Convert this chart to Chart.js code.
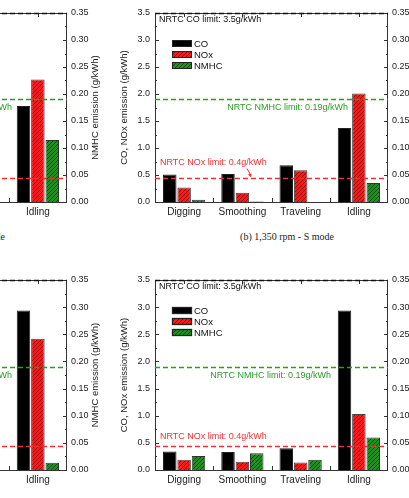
<!DOCTYPE html>
<html>
<head>
<meta charset="utf-8">
<script src="https://cdn.jsdelivr.net/npm/chart.js@4.4.1/dist/chart.umd.min.js"></script>
<style>
    html, body { margin: 0; padding: 0; background: #fff; }
    body { width: 409px; height: 498px; overflow: hidden; position: relative; font-family: "Liberation Sans", Arial, sans-serif; }
    .panel { position: absolute; }
    .cap { position: absolute; width: 200px; font-family: "Liberation Serif", "Times New Roman", serif; font-size: 10px; color: #222; white-space: nowrap; }
</style>
</head>
<body>
<div class="panel" style="left:-206px; top:0; width:312px; height:225px"><canvas id="chartA"></canvas></div>
<div class="panel" style="left:115px; top:0; width:312px; height:225px"><canvas id="chartB"></canvas></div>
<div class="panel" style="left:-206px; top:267px; width:312px; height:226px"><canvas id="chartC"></canvas></div>
<div class="panel" style="left:115px; top:267px; width:312px; height:226px"><canvas id="chartD"></canvas></div>
<div class="cap" style="left:-195px; top:231px; text-align:right">(a) 1,350 rpm - P mode</div>
<div class="cap" style="left:187px; top:231px; text-align:center">(b) 1,350 rpm - S mode</div>

<script>
const categories = ['Digging', 'Smoothing', 'Traveling', 'Idling'];

// CO and NOx on the left axis (g/kWh), NMHC on the right axis (g/kWh)
// left panels are cut off: only the Idling group is visible
const coA = [null, null, null, 1.78];
const noxA = [null, null, null, 2.27];
const nmhcA = [null, null, null, 0.115];

const coB = [0.51, 0.52, 0.68, 1.37];
const noxB = [0.27, 0.17, 0.59, 2.01];
const nmhcB = [0.004, 0.001, 0, 0.035];

const coC = [null, null, null, 2.94];
const noxC = [null, null, null, 2.42];
const nmhcC = [null, null, null, 0.0135];

const coD = [0.34, 0.33, 0.40, 2.94];
const noxD = [0.19, 0.15, 0.14, 1.03];
const nmhcD = [0.026, 0.031, 0.019, 0.060];

// limit lines
const coLimit = 3.5;
const noxLimitLine = 0.44;
const nmhcLimit = 0.19;

const leftMax = 3.5, leftStep = 0.5;
const rightMax = 0.35, rightStep = 0.05;

const FONT = '"Liberation Sans", Arial, sans-serif';
const INK = '#222';

function hatch(bg, fg) {
    const c = document.createElement('canvas');
    c.width = 4; c.height = 4;
    const g = c.getContext('2d');
    g.fillStyle = bg;
    g.fillRect(0, 0, 4, 4);
    g.strokeStyle = fg;
    g.lineWidth = 1;
    g.beginPath();
    g.moveTo(0, 4); g.lineTo(4, 0);
    g.moveTo(-1, 1); g.lineTo(1, -1);
    g.moveTo(3, 5); g.lineTo(5, 3);
    g.stroke();
    return g.createPattern(c, 'repeat');
}

const redFill = hatch('#f21a1a', '#a80000');
const greenFill = hatch('#1f8f1f', '#0a500a');

const decoPlugin = {
    id: 'deco',
    afterDatasetsDraw(chart, args, o) {
        const { ctx, chartArea: a, scales } = chart;
        const y = scales.y, x = scales.x, y2 = scales.y2;
        ctx.save();

        // frame
        ctx.strokeStyle = '#333';
        ctx.lineWidth = 1;
        ctx.setLineDash([]);
        ctx.strokeRect(a.left + 0.5, a.top + 0.5, a.right - a.left - 1, a.bottom - a.top);

        // inward ticks on the value axes (major + minor)
        ctx.beginPath();
        for (let v = 0; v <= leftMax + 1e-9; v += leftStep / 2) {
            const py = Math.round(y.getPixelForValue(v)) + 0.5;
            const major = Math.abs(v / leftStep - Math.round(v / leftStep)) < 1e-6;
            const len = major ? 4 : 2;
            ctx.moveTo(a.left, py); ctx.lineTo(a.left + len, py);
            ctx.moveTo(a.right, py); ctx.lineTo(a.right - len, py);
        }
        // category ticks: boundaries at bottom, centers at top
        const n = chart.data.labels.length;
        const w = (a.right - a.left) / n;
        for (let i = 1; i < n; i++) {
            const px = Math.round(a.left + i * w) + 0.5;
            ctx.moveTo(px, a.bottom); ctx.lineTo(px, a.bottom - 4);
        }
        for (let i = 0; i < n; i++) {
            const px = Math.round(x.getPixelForTick(i)) + 0.5;
            ctx.moveTo(px, a.top); ctx.lineTo(px, a.top + 4);
        }
        ctx.stroke();

        // limit lines
        const dash = (py, color) => {
            ctx.strokeStyle = color;
            ctx.lineWidth = 1.3;
            ctx.setLineDash([5, 3]);
            ctx.beginPath();
            ctx.moveTo(a.left, py); ctx.lineTo(a.right, py);
            ctx.stroke();
        };
        const yCo = Math.round(y.getPixelForValue(coLimit)) + 0.5;
        const yNox = Math.round(y.getPixelForValue(noxLimitLine)) + 0.5;
        const yNmhc = Math.round(y2.getPixelForValue(nmhcLimit)) + 0.5;
        dash(yNox, '#f03030');
        dash(yNmhc, '#2e9a2e');
        dash(yCo, '#111');
        ctx.setLineDash([]);

        // labels
        ctx.font = '9px ' + FONT;
        ctx.textBaseline = 'middle';
        ctx.textAlign = 'left';
        ctx.fillStyle = '#111';
        ctx.fillText('NRTC CO limit: 3.5g/kWh', a.left + 4, a.top + 7);
        ctx.fillStyle = '#f03030';
        ctx.fillText('NRTC NOx limit: 0.4g/kWh', a.left + 5, yNox - o.noxTextUp);
        ctx.fillStyle = '#2e9a2e';
        ctx.textAlign = 'right';
        ctx.fillText('NRTC NMHC limit: 0.19g/kWh', a.right + o.nmhcTextEnd, yNmhc + 8);

        if (o.arrow) {
            ctx.strokeStyle = '#f03030';
            ctx.fillStyle = '#f03030';
            ctx.lineWidth = 1;
            const x0 = a.left + 92, y0 = yNox - 10, x1 = a.left + 96, y1 = yNox - 1;
            ctx.beginPath(); ctx.moveTo(x0, y0); ctx.lineTo(x1, y1 - 2); ctx.stroke();
            ctx.beginPath(); ctx.moveTo(x1, y1); ctx.lineTo(x1 - 3, y1 - 3); ctx.lineTo(x1 + 0.5, y1 - 4); ctx.closePath(); ctx.fill();
        }

        // legend inside the plot
        ctx.textAlign = 'left';
        ctx.font = '9.5px ' + FONT;
        chart.data.datasets.forEach((ds, i) => {
            const sx = a.left + 17, sy = a.top + 27 + i * 11;
            ctx.fillStyle = ds.backgroundColor;
            ctx.fillRect(sx, sy, 20, 7);
            ctx.strokeStyle = '#222';
            ctx.strokeRect(sx + 0.5, sy + 0.5, 19, 6);
            ctx.fillStyle = '#111';
            ctx.fillText(ds.label, sx + 22, sy + 4);
        });

        // right axis title, reading bottom to top
        ctx.translate(a.right + 28, (a.top + a.bottom) / 2);
        ctx.rotate(-Math.PI / 2);
        ctx.textAlign = 'center';
        ctx.font = '9.5px ' + FONT;
        ctx.fillStyle = INK;
        ctx.fillText('NMHC emission (g/kWh)', 0, 0);
        ctx.restore();
    }
};

function makePanel(id, co, nox, nmhc, deco) {
    const tickFont = { family: FONT, size: 9 };
    const noGrid = { display: false, drawTicks: false };
    new Chart(document.getElementById(id), {
        type: 'bar',
        data: {
            labels: categories,
            datasets: [
                { label: 'CO', data: co, yAxisID: 'y', backgroundColor: '#000', borderColor: '#222', borderWidth: 1 },
                { label: 'NOx', data: nox, yAxisID: 'y', backgroundColor: redFill, borderColor: '#444', borderWidth: 1 },
                { label: 'NMHC', data: nmhc, yAxisID: 'y2', backgroundColor: greenFill, borderColor: '#333', borderWidth: 1 }
            ]
        },
        options: {
            responsive: true,
            maintainAspectRatio: false,
            animation: false,
            layout: { padding: { top: 13, left: 0, right: 0, bottom: 0 } },
            datasets: { bar: { categoryPercentage: 0.74, barPercentage: 0.94 } },
            plugins: { legend: { display: false }, tooltip: { enabled: false }, deco: deco },
            scales: {
                x: {
                    grid: noGrid,
                    border: { display: false },
                    ticks: { padding: 4, font: { family: FONT, size: 10 }, color: INK, maxRotation: 0 },
                    afterFit(s) { s.height = 23; }
                },
                y: {
                    position: 'left',
                    min: 0, max: leftMax,
                    grid: noGrid,
                    border: { display: false },
                    ticks: { stepSize: leftStep, padding: 5, font: tickFont, color: INK, callback: v => v.toFixed(1) },
                    title: { display: true, text: 'CO, NOx emission (g/kWh)', font: { family: FONT, size: 9.5 }, color: INK },
                    afterFit(s) { s.width = 40; }
                },
                y2: {
                    position: 'right',
                    min: 0, max: rightMax,
                    grid: noGrid,
                    border: { display: false },
                    ticks: { stepSize: rightStep, padding: 4, font: tickFont, color: INK, callback: v => v.toFixed(2) },
                    afterFit(s) { s.width = 39; }
                }
            }
        },
        plugins: [decoPlugin]
    });
}

makePanel('chartA', coA, noxA, nmhcA, { noxTextUp: 12, nmhcTextEnd: -55, arrow: false });
makePanel('chartB', coB, noxB, nmhcB, { noxTextUp: 16, nmhcTextEnd: -40, arrow: true });
makePanel('chartC', coC, noxC, nmhcC, { noxTextUp: 12, nmhcTextEnd: -55, arrow: false });
makePanel('chartD', coD, noxD, nmhcD, { noxTextUp: 10, nmhcTextEnd: -57, arrow: false });
</script>
</body>
</html>
